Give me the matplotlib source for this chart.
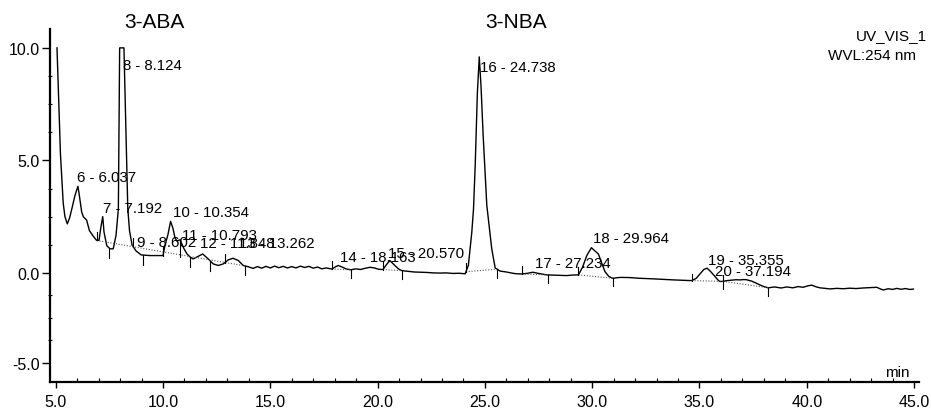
import numpy as np
import matplotlib
matplotlib.use("Agg")
import matplotlib.pyplot as plt
import matplotlib.transforms as mtransforms
from matplotlib.ticker import MultipleLocator, FormatStrFormatter

plt.rcParams["font.family"] = ["Liberation Sans", "DejaVu Sans"]

# chromatogram trace, UV 254 nm (time in min, signal in mAU)
time = [
    5.06, 5.12, 5.17, 5.22, 5.28, 5.35, 5.43, 5.54, 5.65, 5.75, 5.90, 6.037,
    6.10, 6.21, 6.29, 6.44, 6.57, 6.75, 6.91, 7.02, 7.10, 7.192, 7.25, 7.38,
    7.53, 7.68, 7.81, 7.92, 7.98, 8.124, 8.18, 8.36, 8.44, 8.56, 8.74, 8.98, 9.39,
    10.0, 10.09, 10.23, 10.354, 10.47, 10.56, 10.65, 10.793, 10.98, 11.12,
    11.26, 11.40, 11.57, 11.848, 12.11, 12.34, 12.58, 12.81, 13.04, 13.262,
    13.51, 13.74, 13.98,
    14.2, 14.4, 14.6, 14.8, 15.0, 15.2, 15.4, 15.6, 15.8, 16.0, 16.2, 16.4,
    16.6, 16.8, 17.0, 17.2, 17.4, 17.6, 17.87, 18.0, 18.163, 18.35, 18.55,
    18.76, 19.0, 19.2, 19.4, 19.65, 19.85, 20.05, 20.25, 20.4, 20.570, 20.75,
    20.97, 21.13, 21.4, 21.7, 22.0, 22.3, 22.58, 22.9, 23.2, 23.5, 23.8, 24.08,
    24.23, 24.39, 24.47, 24.55, 24.65, 24.738, 24.82, 24.92, 25.0, 25.09,
    25.32, 25.48, 25.71, 26.0, 26.3, 26.48, 26.73, 27.0, 27.234, 27.5, 27.88,
    28.3, 28.81, 29.1, 29.36, 29.55, 29.75, 29.964, 30.1, 30.29, 30.45, 30.6,
    30.78, 30.95, 31.3, 31.76, 32.2, 32.83, 33.3, 33.8, 34.2, 34.64, 34.85,
    35.02, 35.2, 35.355, 35.5, 35.71, 35.85, 35.95, 36.1, 36.27, 36.5, 36.7,
    36.89, 37.05, 37.194, 37.44, 37.62, 37.82, 38.0, 38.21, 38.5, 38.8, 39.07,
    39.35, 39.6, 39.83, 40.05, 40.23, 40.45, 40.62, 40.85, 41.09, 41.4, 41.7,
    42.0, 42.3, 42.6, 42.9, 43.26, 43.45, 43.57, 43.8, 44.0, 44.19, 44.4,
    44.6, 44.8, 44.97,
]
signal = [
    10.0, 8.3, 6.8, 5.3, 4.3, 3.1, 2.5, 2.18, 2.45, 2.84, 3.45, 3.85,
    3.45, 2.71, 2.49, 2.35, 1.88, 1.63, 1.44, 1.45, 2.0, 2.50, 1.82, 1.21,
    1.07, 1.07, 1.66, 2.84, 10.0, 10.0, 10.0, 2.84, 1.87, 1.24, 0.98, 0.80, 0.77,
    0.77, 1.21, 1.70, 2.29, 1.96, 1.55, 1.42, 1.47, 1.07, 0.84,
    0.71, 0.62, 0.70, 0.84, 0.62, 0.40, 0.33, 0.40, 0.58, 0.65,
    0.55, 0.33, 0.27,
    0.20, 0.28, 0.21, 0.29, 0.22, 0.30, 0.23, 0.29, 0.22, 0.28, 0.22, 0.30,
    0.24, 0.29, 0.21, 0.26, 0.18, 0.22, 0.17, 0.25, 0.33, 0.26, 0.17,
    0.14, 0.18, 0.15, 0.20, 0.25, 0.22, 0.16, 0.15, 0.35, 0.55, 0.38,
    0.18, 0.10, 0.07, 0.04, 0.03, 0.02, 0.0, -0.01, 0.0, -0.03, -0.02, -0.05,
    0.33, 1.8, 2.84, 4.8, 8.0, 9.6, 8.3, 6.1, 4.6, 3.0,
    1.07, 0.22, 0.08, 0.04, -0.02, -0.05, -0.06, -0.02, 0.03, -0.03, -0.11,
    -0.13, -0.15, -0.12, -0.11, 0.25, 0.77, 1.12, 1.0, 0.84, 0.42, 0.05,
    -0.2, -0.3, -0.25, -0.26, -0.3, -0.33, -0.36, -0.39, -0.41, -0.43, -0.3,
    -0.06, 0.15, 0.21, 0.08, -0.18, -0.38, -0.48, -0.47, -0.43, -0.40, -0.38,
    -0.39, -0.37, -0.38, -0.46, -0.56, -0.67, -0.76, -0.83, -0.78, -0.84, -0.78,
    -0.83, -0.76, -0.80, -0.72, -0.68, -0.78, -0.83, -0.86, -0.89, -0.86, -0.88,
    -0.85, -0.87, -0.84, -0.82, -0.80, -0.90, -0.95, -0.88, -0.92, -0.86, -0.91,
    -0.87, -0.92, -0.90,
]

# integrated peaks
peak_no = [6, 7, 8, 9, 10, 11, 12, 13, 14, 15, 16, 17, 18, 19, 20]
peak_rt = [6.037, 7.192, 8.124, 8.602, 10.354, 10.793, 11.848, 13.262,
           18.163, 20.570, 24.738, 27.234, 29.964, 35.355, 37.194]
# where each peak label is written (start time, text baseline)
label_x = [5.99, 7.20, 8.14, 8.79, 10.47, 10.89, 11.73, 13.55,
           18.25, 20.49, 24.77, 27.34, 30.04, 35.40, 35.73]
label_y = [4.09, 2.71, 9.07, 1.20, 2.53, 1.51, 1.16, 1.16,
           0.53, 0.71, 8.98, 0.27, 1.38, 0.40, -0.11]

# integration limits
tick_up = [6.91, 8.60, 10.0, 12.88, 17.87, 20.25, 24.12, 26.73, 29.36, 34.64, 36.10]
tick_down = [7.48, 9.08, 11.26, 12.21, 13.81, 18.76, 21.13, 25.57, 27.94,
             30.95, 36.10, 38.20]
tick_drop = [10.77]
baseline_segments = [(6.91, 13.81), (17.87, 18.76), (20.25, 21.13), (24.12, 25.57),
                     (26.73, 27.94), (29.36, 30.95), (34.64, 36.10), (36.10, 38.20)]

compounds = ["3-ABA", "3-NBA"]
compound_x = [9.58, 26.45]


def squash(y):
    y = np.asarray(y, dtype=float)
    return np.where(y < 0, 0.8 * y, y)


def unsquash(y):
    y = np.asarray(y, dtype=float)
    return np.where(y < 0, y / 0.8, y)


fig = plt.figure(figsize=(9.31, 4.10), dpi=100)
ax = fig.add_axes([0.0537, 0.0659, 0.9334, 0.861])
ax.set_yscale("function", functions=(squash, unsquash))

t = np.array(time)
s = np.array(signal)
ax.plot(t, s, color="black", lw=1.0, solid_joinstyle="round")

# dotted integration baselines
for t0, t1 in baseline_segments:
    ax.plot([t0, t1], np.interp([t0, t1], t, s), color="#555555", lw=0.8,
            ls=(0, (1, 1.5)))

# peak start / end marks
for tt in tick_up:
    v = np.interp(tt, t, s)
    ax.plot([tt, tt], [v, v + 0.38], color="black", lw=0.8)
for tt in tick_down:
    v = np.interp(tt, t, s)
    ax.plot([tt, tt], [v, v - 0.45], color="black", lw=0.8)
for tt in tick_drop:
    v = np.interp(tt, t, s)
    b = np.interp(tt, [6.91, 13.81], np.interp([6.91, 13.81], t, s))
    ax.plot([tt, tt], [b - 0.1, v], color="black", lw=0.8)

for n, rt, lx, ly in zip(peak_no, peak_rt, label_x, label_y):
    ax.text(lx, ly, f"{n} - {rt:.3f}", ha="left", va="baseline", fontsize=10.8)

blend = mtransforms.blended_transform_factory(ax.transData, fig.transFigure)
for name, cx in zip(compounds, compound_x):
    ax.text(cx, 0.946, name, transform=blend, ha="center", va="center", fontsize=15)

fig.text(0.9957, 0.912, "UV_VIS_1", ha="right", va="center", fontsize=11)
fig.text(0.984, 0.863, "WVL:254 nm", ha="right", va="center", fontsize=11)
fig.text(0.9635, 0.090, "min", ha="center", va="center", fontsize=11)

ax.set_xlim(4.734, 45.23)
ax.set_ylim(-6.06, 10.84)
ax.set_xticks([5, 10, 15, 20, 25, 30, 35, 40, 45])
ax.set_yticks([-5, 0, 5, 10])
ax.xaxis.set_minor_locator(MultipleLocator(1))
ax.yaxis.set_minor_locator(MultipleLocator(1.25))
ax.xaxis.set_major_formatter(FormatStrFormatter("%.1f"))
ax.yaxis.set_major_formatter(FormatStrFormatter("%.1f"))

for side in ["top", "right"]:
    ax.spines[side].set_visible(False)
for side in ["left", "bottom"]:
    ax.spines[side].set_linewidth(1.6)

ax.tick_params(axis="y", which="major", direction="out", length=5.8, width=1.0,
               pad=1.5, labelsize=11.5)
ax.tick_params(axis="y", which="minor", direction="inout", length=3, width=0.8)
ax.tick_params(axis="x", which="major", direction="out", length=4, width=1.0,
               pad=4.5, labelsize=11.5)
ax.tick_params(axis="x", which="minor", direction="in", length=3, width=0.8)

fig.savefig("out.png", dpi=100)
